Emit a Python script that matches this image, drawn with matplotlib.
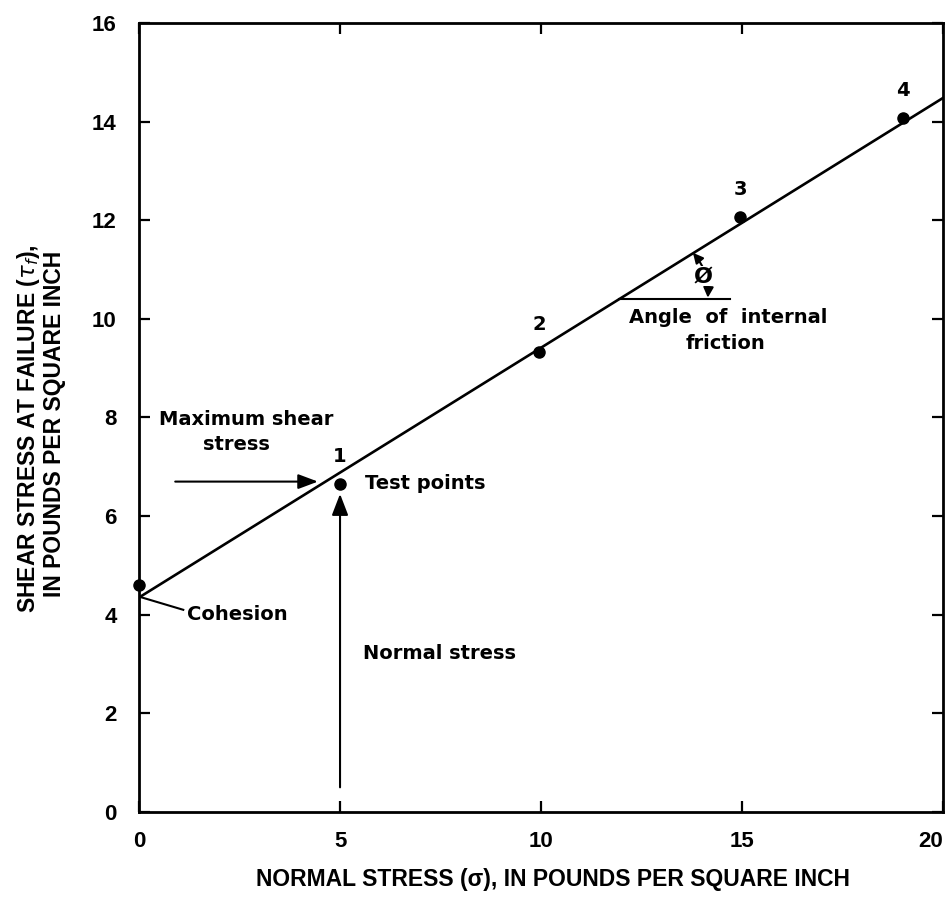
import matplotlib
matplotlib.use("Agg")
import matplotlib.pyplot as plt

# test results
normal_stress = [0.0, 5.0, 9.95, 14.95, 19.0]
shear_stress = [4.6, 6.65, 9.33, 12.07, 14.08]
point_labels = ["", "1", "2", "3", "4"]

# failure envelope
envelope_x = [0.0, 20.0]
envelope_y = [4.35, 14.48]

x_ticks = [0, 5, 10, 15, 20]
y_ticks = [0, 2, 4, 6, 8, 10, 12, 14, 16]

LABEL_FONT = ["Liberation Sans", "DejaVu Sans"]
NOTE_FONT = ["DejaVu Sans"]

fig = plt.figure(figsize=(9.53, 9.02), dpi=100)
ax = fig.add_axes([0.1459, 0.0998, 0.8436, 0.8747])

ax.plot(envelope_x, envelope_y, color="black", lw=1.9, zorder=3)
ax.plot(normal_stress, shear_stress, "o", color="black", ms=8, zorder=4, clip_on=False)

for x, y, lab in zip(normal_stress, shear_stress, point_labels):
    if lab:
        ax.text(x, y + 0.55, lab, ha="center", va="center", fontsize=14,
                fontweight="bold", family=NOTE_FONT)

# maximum shear stress arrow
ax.annotate("", xy=(4.45, 6.7), xytext=(0.9, 6.7),
            arrowprops=dict(arrowstyle="-|>,head_length=1.2,head_width=0.45",
                            color="black", lw=1.5, shrinkA=0, shrinkB=0))
ax.text(0.5, 7.95, "Maximum shear", fontsize=14, fontweight="bold",
        family=NOTE_FONT, ha="left", va="center")
ax.text(1.6, 7.45, "stress", fontsize=14, fontweight="bold",
        family=NOTE_FONT, ha="left", va="center")

# normal stress arrow
ax.annotate("", xy=(5.0, 6.45), xytext=(5.0, 0.5),
            arrowprops=dict(arrowstyle="-|>,head_length=1.3,head_width=0.5",
                            color="black", lw=1.5, shrinkA=0, shrinkB=0))
ax.text(5.57, 3.22, "Normal stress", fontsize=14, fontweight="bold",
        family=NOTE_FONT, ha="left", va="center")
ax.text(5.62, 6.67, "Test points", fontsize=14, fontweight="bold",
        family=NOTE_FONT, ha="left", va="center")

# cohesion leader
ax.plot([0.03, 1.1], [4.36, 4.1], color="black", lw=1.5)
ax.text(1.2, 4.0, "Cohesion", fontsize=14, fontweight="bold",
        family=NOTE_FONT, ha="left", va="center")

# angle of internal friction
ax.plot([11.93, 14.7], [10.4, 10.4], color="black", lw=1.5)
ax.annotate("", xy=(14.15, 10.43), xytext=(13.78, 11.34),
            arrowprops=dict(arrowstyle="<|-|>,head_length=0.6,head_width=0.3",
                            color="black", lw=1.5, shrinkA=0, shrinkB=0,
                            connectionstyle="arc3,rad=-0.2"))
ax.text(14.02, 10.86, "Ø", fontsize=16, fontweight="bold", family=NOTE_FONT,
        ha="center", va="center",
        bbox=dict(boxstyle="square,pad=0.0", fc="white", ec="none"))
ax.text(14.65, 10.02, "Angle  of  internal", fontsize=14, fontweight="bold",
        family=NOTE_FONT, ha="center", va="center")
ax.text(14.6, 9.5, "friction", fontsize=14, fontweight="bold",
        family=NOTE_FONT, ha="center", va="center")

ax.set_xlim(0, 20)
ax.set_ylim(0, 16)
ax.set_xticks(x_ticks)
ax.set_yticks(y_ticks)
ax.tick_params(direction="in", length=8, width=1.6, top=True, right=True,
               labelsize=16)
ax.tick_params(axis="y", pad=16)
ax.tick_params(axis="x", pad=14)
for lab in ax.get_xticklabels() + ax.get_yticklabels():
    lab.set_fontweight("bold")
    lab.set_family(LABEL_FONT)
# keep the last x label inside the figure
ax.get_xticklabels()[-1].set_horizontalalignment("right")
for sp in ax.spines.values():
    sp.set_linewidth(2.0)

fig.text(0.58, 0.0244, "NORMAL STRESS (σ), IN POUNDS PER SQUARE INCH",
         ha="center", va="center", fontsize=16.5, fontweight="bold", family=LABEL_FONT)
fig.text(0.030, 0.525, r"SHEAR STRESS AT FAILURE ($\tau_f$),", rotation=90,
         ha="center", va="center", fontsize=16.5, fontweight="bold", family=LABEL_FONT)
fig.text(0.057, 0.53, "IN POUNDS PER SQUARE INCH", rotation=90,
         ha="center", va="center", fontsize=16.5, fontweight="bold", family=LABEL_FONT)

fig.savefig("out.png", dpi=100)
